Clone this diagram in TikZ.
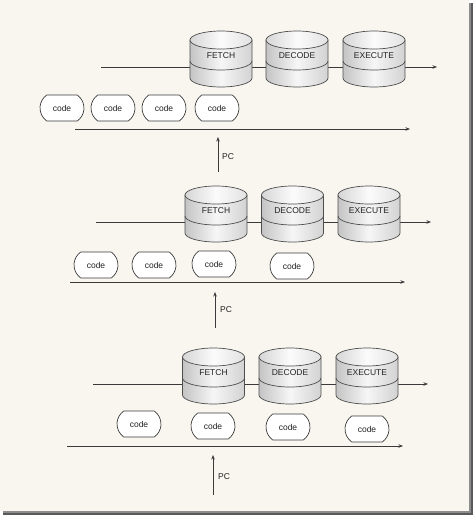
\documentclass[tikz,border=0pt]{standalone}
\usepackage{fontspec}
\setmainfont{Liberation Sans}
\usetikzlibrary{shapes.misc,arrows.meta}
\definecolor{paper}{HTML}{F9F6EF}
\definecolor{ink}{HTML}{3A3A3A}
\definecolor{txt}{HTML}{222222}
\definecolor{cylA}{HTML}{C4C4C4}
\definecolor{cylB}{HTML}{F6F6F6}
\definecolor{cylC}{HTML}{D2D2D2}
\definecolor{topA}{HTML}{D6D6D6}
\definecolor{topB}{HTML}{FBFBFB}
\definecolor{topC}{HTML}{E2E2E2}
\tikzset{
  flow/.style={draw=ink,line width=0.7pt,-{Stealth[length=4.5pt,width=3.5pt]}},
  cylbody/.style={draw=ink!90,line width=0.7pt,left color=cylA,right color=cylC,middle color=cylB},
  cyltop/.style={draw=ink!90,line width=0.7pt,left color=topA,right color=topC,middle color=topB},
  cylline/.style={draw=ink!90,line width=0.7pt},
  cyltext/.style={text=txt,font=\fontsize{8.5}{10}\selectfont,inner sep=0pt},
  codebox/.style={rounded rectangle,rounded rectangle arc length=110,draw=ink,line width=0.7pt,fill=white,
    minimum width=46pt,minimum height=26pt,inner sep=1pt,text=txt,font=\fontsize{8.5}{10}\selectfont},
  pclabel/.style={anchor=west,inner sep=0pt,text=txt,font=\fontsize{8.5}{10}\selectfont},
}
\newcommand{\cylnode}[4]{%
  \begin{scope}[shift={(#2,-#3)}]
    \path[cylbody] (-31,-9) -- (-31,-47) arc[start angle=180,end angle=360,x radius=31,y radius=9] -- (31,-9) -- cycle;
    \path[cyltop] (0,-9) ellipse [x radius=31,y radius=9];
    \draw[cylline] (-31,-30) arc[start angle=180,end angle=360,x radius=31,y radius=9];
    \node[cyltext] (#1) at (0,-25) {#4};
  \end{scope}}
\begin{document}
\begin{tikzpicture}[x=1pt,y=1pt]
  % page and shadow
  \fill[white] (0,0) rectangle (473,-515);
  \fill[black!65] (3,-3) rectangle (473,-515);
  \fill[black!45] (3,-3) rectangle (471,-513);
  \fill[paper] (0,0) rectangle (469,-511);
  \useasboundingbox (0,0) rectangle (473,-515);

  % ---------- panel 1 ----------
  \coordinate (p1a) at (101,-67);
  \coordinate (p1b) at (437,-67);
  \draw[flow] (p1a) -- (p1b);
  \cylnode{f1}{221}{31}{FETCH}
  \cylnode{d1}{297}{31}{DECODE}
  \cylnode{e1}{374}{31}{EXECUTE}
  \node[codebox] (c11) at (62,-108) {code};
  \node[codebox] (c12) at (113,-108) {code};
  \node[codebox] (c13) at (164,-108) {code};
  \node[codebox] (c14) at (217,-108) {code};
  \coordinate (m1a) at (75,-129);
  \coordinate (m1b) at (410,-129);
  \draw[flow] (m1a) -- (m1b);
  \coordinate (pc1s) at (218,-172);
  \coordinate (pc1e) at (218,-137);
  \draw[flow] (pc1s) -- (pc1e);
  \node[pclabel] (pc1) at (222,-157) {PC};

  % ---------- panel 2 ----------
  \coordinate (p2a) at (96,-222);
  \coordinate (p2b) at (431,-222);
  \draw[flow] (p2a) -- (p2b);
  \cylnode{f2}{216}{186}{FETCH}
  \cylnode{d2}{292.5}{186}{DECODE}
  \cylnode{e2}{369}{186}{EXECUTE}
  \node[codebox] (c21) at (96,-265) {code};
  \node[codebox] (c22) at (154,-265) {code};
  \node[codebox] (c23) at (214,-264) {code};
  \node[codebox] (c24) at (292,-266) {code};
  \coordinate (m2a) at (70,-282);
  \coordinate (m2b) at (405,-282);
  \draw[flow] (m2a) -- (m2b);
  \coordinate (pc2s) at (215,-328);
  \coordinate (pc2e) at (215,-292);
  \draw[flow] (pc2s) -- (pc2e);
  \node[pclabel] (pc2) at (220,-310) {PC};

  % ---------- panel 3 ----------
  \coordinate (p3a) at (93,-384);
  \coordinate (p3b) at (428,-384);
  \draw[flow] (p3a) -- (p3b);
  \cylnode{f3}{213.5}{348}{FETCH}
  \cylnode{d3}{290}{348}{DECODE}
  \cylnode{e3}{367}{348}{EXECUTE}
  \node[codebox] (c31) at (139,-424) {code};
  \node[codebox] (c32) at (213,-426) {code};
  \node[codebox] (c33) at (288,-427) {code};
  \node[codebox] (c34) at (367,-429) {code};
  \coordinate (m3a) at (67,-446);
  \coordinate (m3b) at (403,-446);
  \draw[flow] (m3a) -- (m3b);
  \coordinate (pc3s) at (213,-495);
  \coordinate (pc3e) at (213,-455);
  \draw[flow] (pc3s) -- (pc3e);
  \node[pclabel] (pc3) at (218,-477) {PC};
\end{tikzpicture}
\end{document}
